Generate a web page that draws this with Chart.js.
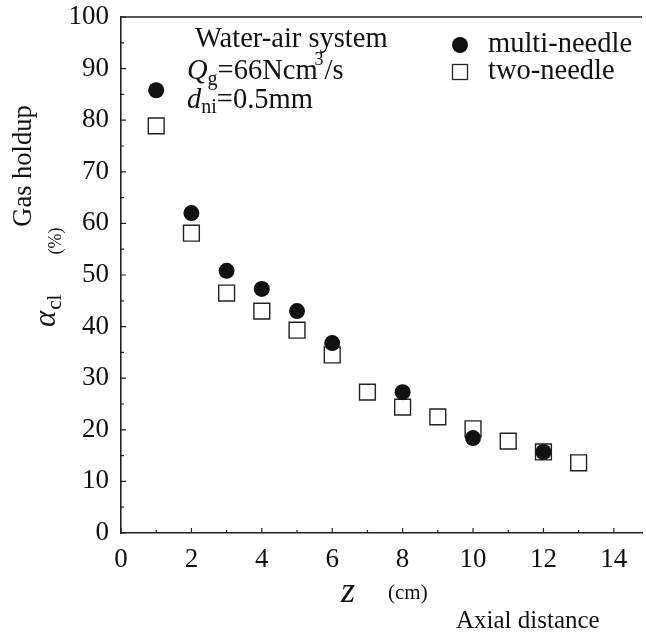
<!DOCTYPE html>
<html>
<head>
<meta charset="utf-8">
<script src="https://cdn.jsdelivr.net/npm/chart.js@4"></script>
<style>
  body { margin: 0; background: #fff; }
  #wrap { width: 646px; height: 632px; }
</style>
</head>
<body>
<div id="wrap"><canvas id="chart" width="646" height="632"></canvas></div>
<script>
// data (z in cm, gas holdup in %)
const multiZ = [1, 2, 3, 4, 5, 6, 8, 10, 12];
const multiHoldup = [85.8, 62.0, 50.8, 47.3, 43.0, 36.8, 27.3, 18.4, 15.7];
const twoZ = [1, 2, 3, 4, 5, 6, 7, 8, 9, 10, 11, 12, 13];
const twoHoldup = [78.9, 58.1, 46.5, 43.0, 39.3, 34.5, 27.3, 24.4, 22.5, 20.2, 17.8, 15.7, 13.6];

const xTicks = [0, 2, 4, 6, 8, 10, 12, 14];
const xMinor = [1, 3, 5, 7, 9, 11, 13];
const yTicks = [0, 10, 20, 30, 40, 50, 60, 70, 80, 90, 100];
const yMinor = [5, 15, 25, 35, 45, 55, 65, 75, 85, 95];

const SERIF = "'Liberation Serif', 'DejaVu Serif', serif";
const INK = '#111';

function toPoints(xs, ys) {
    return xs.map((x, i) => ({ x: x, y: ys[i] }));
}

// draw a run of text pieces with their own fonts and baseline shifts
function drawRich(ctx, x, y, parts) {
    let cx = x;
    parts.forEach(p => {
        ctx.font = p.font;
        ctx.fillText(p.t, cx + (p.dx || 0), y + (p.dy || 0));
        cx += ctx.measureText(p.t).width + (p.dx || 0);
    });
}

// inward ticks, top frame line, axis labels, notes and legend
const decorations = {
    id: 'decorations',
    afterDraw(chart) {
        const ctx = chart.ctx;
        const area = chart.chartArea;
        const xs = chart.scales.x;
        const ys = chart.scales.y;
        ctx.save();
        ctx.strokeStyle = '#222';
        ctx.lineWidth = 1.5;

        // top frame line
        ctx.beginPath();
        ctx.moveTo(area.left, area.top);
        ctx.lineTo(area.right, area.top);
        ctx.stroke();

        ctx.lineWidth = 1.2;
        ctx.beginPath();
        xTicks.forEach(v => {
            const px = xs.getPixelForValue(v);
            ctx.moveTo(px, area.bottom);
            ctx.lineTo(px, area.bottom - 5);
        });
        xMinor.forEach(v => {
            const px = xs.getPixelForValue(v);
            ctx.moveTo(px, area.bottom);
            ctx.lineTo(px, area.bottom - 3);
        });
        yTicks.forEach(v => {
            const py = ys.getPixelForValue(v);
            ctx.moveTo(area.left, py);
            ctx.lineTo(area.left + 5, py);
        });
        yMinor.forEach(v => {
            const py = ys.getPixelForValue(v);
            ctx.moveTo(area.left, py);
            ctx.lineTo(area.left + 3, py);
        });
        ctx.stroke();

        ctx.fillStyle = INK;
        ctx.textAlign = 'left';
        ctx.textBaseline = 'alphabetic';

        // notes in the upper left of the plot
        drawRich(ctx, 195, 47, [{ t: 'Water-air system', font: `28.5px ${SERIF}` }]);
        drawRich(ctx, 187, 79, [
            { t: 'Q', font: `italic 28.5px ${SERIF}` },
            { t: 'g', font: `20px ${SERIF}`, dy: 6 },
            { t: '=66Ncm', font: `28.5px ${SERIF}` },
            { t: '3', font: `18px ${SERIF}`, dy: -14, dx: -3 },
            { t: '/s', font: `28.5px ${SERIF}`, dx: 1 }
        ]);
        drawRich(ctx, 187, 108, [
            { t: 'd', font: `italic 28.5px ${SERIF}` },
            { t: 'ni', font: `20px ${SERIF}`, dy: 5 },
            { t: '=0.5mm', font: `28.5px ${SERIF}` }
        ]);

        // legend
        ctx.beginPath();
        ctx.arc(460, 45, 8, 0, Math.PI * 2);
        ctx.fill();
        ctx.fillStyle = '#fff';
        ctx.fillRect(452.5, 64.5, 15, 15);
        ctx.strokeStyle = '#222';
        ctx.lineWidth = 1.3;
        ctx.strokeRect(452.5, 64.5, 15, 15);
        ctx.fillStyle = INK;
        drawRich(ctx, 488, 52, [{ t: 'multi-needle', font: `28.5px ${SERIF}` }]);
        drawRich(ctx, 488, 79, [{ t: 'two-needle', font: `28.5px ${SERIF}` }]);

        // x axis labels
        drawRich(ctx, 341, 602, [{ t: 'z', font: `italic 36px ${SERIF}` }]);
        drawRich(ctx, 388, 599, [{ t: '(cm)', font: `21px ${SERIF}` }]);
        drawRich(ctx, 456, 628, [{ t: 'Axial distance', font: `25px ${SERIF}` }]);

        // y axis labels (rotated)
        ctx.save();
        ctx.translate(31, 166);
        ctx.rotate(-Math.PI / 2);
        ctx.textAlign = 'center';
        ctx.font = `26.5px ${SERIF}`;
        ctx.fillText('Gas holdup', 0, 0);
        ctx.restore();

        ctx.save();
        ctx.translate(61, 241);
        ctx.rotate(-Math.PI / 2);
        ctx.textAlign = 'center';
        ctx.font = `18px ${SERIF}`;
        ctx.fillText('(%)', 0, 0);
        ctx.restore();

        ctx.save();
        ctx.translate(55, 327);
        ctx.rotate(-Math.PI / 2);
        drawRich(ctx, 0, 0, [
            { t: 'α', font: `italic 31px ${SERIF}` },
            { t: 'cl', font: `21px ${SERIF}`, dy: 6, dx: 1 }
        ]);
        ctx.restore();

        ctx.restore();
    }
};

const ctx = document.getElementById('chart').getContext('2d');
new Chart(ctx, {
    type: 'scatter',
    data: {
        datasets: [
            {
                label: 'multi-needle',
                data: toPoints(multiZ, multiHoldup),
                pointStyle: 'circle',
                pointRadius: 8,
                backgroundColor: INK,
                borderColor: INK,
                borderWidth: 0
            },
            {
                label: 'two-needle',
                data: toPoints(twoZ, twoHoldup),
                pointStyle: 'rect',
                pointRadius: 11.2,
                backgroundColor: '#fff',
                borderColor: '#222',
                borderWidth: 1.4
            }
        ]
    },
    options: {
        responsive: false,
        animation: false,
        layout: {
            autoPadding: false,   // big markers would otherwise push the right edge in
            padding: { top: 17, right: 4, left: 0, bottom: 0 }
        },
        plugins: {
            legend: { display: false },
            tooltip: { enabled: false }
        },
        scales: {
            x: {
                type: 'linear',
                min: 0,
                max: 14.8,
                afterBuildTicks: scale => { scale.ticks = xTicks.map(v => ({ value: v })); },
                afterFit: scale => {
                    scale.height = 99;
                    scale.paddingLeft = 0;
                    scale.paddingRight = 0;
                },
                grid: { display: false, drawTicks: false },
                border: { display: true, color: '#222', width: 1.6 },
                ticks: {
                    padding: 11,
                    color: INK,
                    maxRotation: 0,
                    autoSkip: false,
                    font: { family: SERIF, size: 27 }
                }
            },
            y: {
                min: 0,
                max: 100,
                afterBuildTicks: scale => { scale.ticks = yTicks.map(v => ({ value: v })); },
                afterFit: scale => {
                    scale.width = 121;
                    scale.paddingTop = 0;
                    scale.paddingBottom = 0;
                },
                grid: { display: false, drawTicks: false },
                border: { display: true, color: '#222', width: 1.6 },
                ticks: {
                    padding: 12,
                    color: INK,
                    font: { family: SERIF, size: 27 }
                }
            }
        }
    },
    plugins: [decorations]
});
</script>
</body>
</html>
